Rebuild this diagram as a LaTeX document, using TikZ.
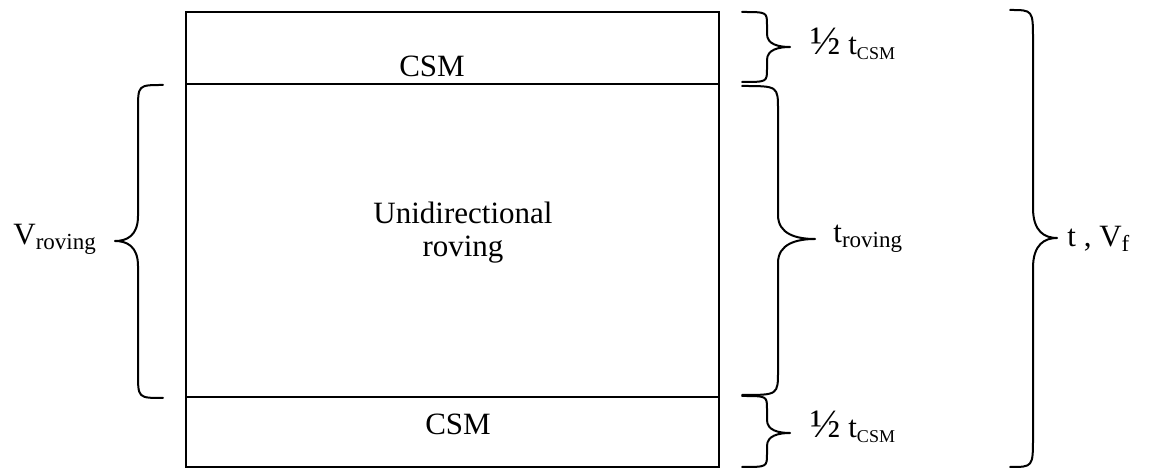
\documentclass[tikz,border=0pt]{standalone}
\usepackage{fontspec}
\setmainfont{Liberation Serif}
% lowered subscript text of a given size
\newcommand\lowsub[2]{\raisebox{-2.2pt}{\fontsize{#1}{#1}\selectfont #2}}
% enlarged one-half sign
\newcommand\half{\scalebox{1.3}{½}}
% curly brace: tip x, spine x, point x, top y, point y, bottom y, hook length
\newcommand\curlybrace[7]{%
  \draw[bracestyle] ({#1},{#4}) .. controls ({#2},{#4}) .. ({#2},{#4+#7})
    -- ({#2},{#5-#7}) .. controls ({#2},{#5-0.2*#7}) and ({(#2+#3)/2},{#5}) .. ({#3},{#5})
    .. controls ({(#2+#3)/2},{#5}) and ({#2},{#5+0.2*#7}) .. ({#2},{#5+#7})
    -- ({#2},{#6-#7}) .. controls ({#2},{#6}) .. ({#1},{#6});}
\begin{document}
\begin{tikzpicture}[x=0.5pt,y=-0.5pt,
  layerline/.style={line width=1.35pt},
  bracestyle/.style={line width=1pt,line cap=round,line join=round},
  lbl/.style={inner sep=0pt,font=\fontsize{15.5pt}{16.5pt}\selectfont}]
\useasboundingbox (0,0) rectangle (1157,469);

% laminate cross-section
\coordinate (tl) at (186,12);
\coordinate (br) at (719,467);
\coordinate (topL) at (186,84);
\coordinate (topR) at (719,84);
\coordinate (botL) at (186,397);
\coordinate (botR) at (719,397);
\draw[layerline] (tl) rectangle (br);
\draw[layerline] (topL) -- (topR);
\draw[layerline] (botL) -- (botR);

% layer names
\node[lbl,anchor=base] (csmtop) at (432,77) {CSM};
\node[lbl,anchor=base] (csmbot) at (458,435) {CSM};
\node[lbl,align=center] (core) at (463,233) {Unidirectional\\roving};

% braces
\curlybrace{163}{138}{115}{85}{241}{398}{25}
\curlybrace{742}{767}{790}{12}{47}{82}{13}
\curlybrace{742}{778}{815}{86}{239}{395}{24}
\curlybrace{742}{767}{790}{396}{433}{467}{13}
\curlybrace{1010}{1033}{1057}{10}{238}{467}{30}

% dimension labels
\node[lbl,anchor=base west] (vrov) at (13,245) {V\lowsub{11.5pt}{roving}};
\node[lbl,anchor=base west] (htop) at (810,55) {\half\ t\lowsub{9pt}{CSM}};
\node[lbl,anchor=base west] (trov) at (833,243) {t\lowsub{11.5pt}{roving}};
\node[lbl,anchor=base west] (hbot) at (810,438) {\half\ t\lowsub{9pt}{CSM}};
\node[lbl,anchor=base west] (tvf) at (1067,247) {t , V\lowsub{11.5pt}{f}};
\end{tikzpicture}
\end{document}
